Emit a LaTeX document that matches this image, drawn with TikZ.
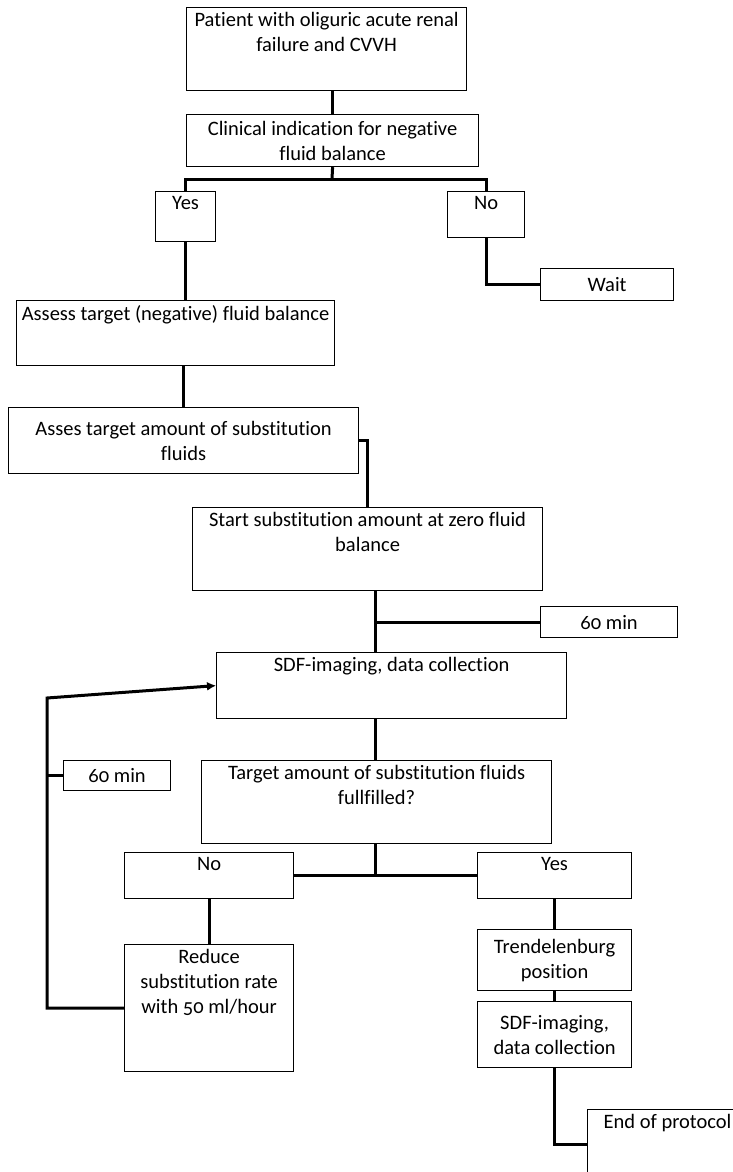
\documentclass[tikz,border=0pt]{standalone}
\usepackage{fontspec}
\setmainfont{Carlito}[Numbers=OldStyle, Ligatures=NoCommon]
\usetikzlibrary{arrows.meta}

\begin{document}
\begin{tikzpicture}[
      x=1pt, y=-1pt,
      every node/.style={font=\fontsize{20.5}{25}\selectfont},
      box/.style={draw, line width=1.2pt, anchor=north west, align=center, inner sep=2pt},
      toptext/.style={label={[anchor=north, align=center, inner sep=5pt]north:{#1}}},
      link/.style={draw, line width=3pt}
    ]
    % Page
    \useasboundingbox[fill=white] (0,0) rectangle (733,1172);

    % Upper part
    \node[box, minimum width=280, minimum height=83,
          toptext={Patient with oliguric acute renal\\failure and CVVH}] (patient) at (186,7) {};
    \node[box, minimum width=292, minimum height=52] (indication) at (186,114)
          {Clinical indication for negative\\fluid balance};
    \node[box, minimum width=60, minimum height=50, toptext=Yes] (yesA) at (155,191) {};
    \node[box, minimum width=77, minimum height=46, toptext=No] (noA) at (447,191) {};
    \node[box, minimum width=133, minimum height=32] (wait) at (540,268) {Wait};
    \node[box, minimum width=318, minimum height=65,
          toptext={Assess target (negative) fluid balance}] (balance) at (16,300) {};
    \node[box, minimum width=350, minimum height=66] (amount) at (8,407)
          {Asses target amount of substitution\\fluids};
    \node[box, minimum width=350, minimum height=83,
          toptext={Start substitution amount at zero fluid\\balance}] (zero) at (192,507) {};

    % Imaging loop
    \node[box, minimum width=137, minimum height=31] (waitA) at (540,606) {60 min};
    \node[box, minimum width=350, minimum height=66,
          toptext={SDF-imaging, data collection}] (imaging) at (216,652) {};
    \node[box, minimum width=107, minimum height=30] (waitB) at (63,760) {60 min};
    \node[box, minimum width=350, minimum height=83,
          toptext={Target amount of substitution fluids\\fullfilled?}] (target) at (201,760) {};
    \node[box, minimum width=169, minimum height=46, toptext=No] (noB) at (124,852) {};
    \node[box, minimum width=154, minimum height=46, toptext=Yes] (yesB) at (477,852) {};
    \node[box, minimum width=169, minimum height=127,
          toptext={Reduce\\substitution rate\\with 50 ml/hour}] (reduce) at (124,944) {};

    % End
    \node[box, minimum width=154, minimum height=61] (trend) at (477,929) {Trendelenburg\\position};
    \node[box, minimum width=154, minimum height=66] (imagingB) at (477,1001) {SDF-imaging,\\data collection};
    \node[box, minimum width=160, minimum height=70, toptext={End of protocol}] (stop) at (587,1109) {};

    % Connectors
    \coordinate (forkA) at (332,179);
    \coordinate (trunk) at (375,0);
    \coordinate (loop) at (47,698);

    \draw[link] (indication.north |- patient.south) -- (indication.north);
    \draw[link] (indication.south) -- (forkA);
    \draw[link] (yesA.north) |- (forkA) -| (noA.north);
    \draw[link] (yesA.south) -- (yesA.south |- balance.north);
    \draw[link] (noA.south) |- (wait.west);
    \draw[link] (amount.north |- balance.south) -- (amount.north);
    \draw[link] (amount.east) -| (zero.north);
    \draw[link] (zero.south -| trunk) -- (imaging.north -| trunk);
    \draw[link] (waitA.west -| trunk) -- (waitA.west);
    \draw[link] (imaging.south -| trunk) -- (target.north -| trunk);
    \draw[link] (target.south -| trunk) -- (noB.east -| trunk);
    \draw[link] (noB.east) -- (yesB.west);
    \draw[link] (noB.south) -- (reduce.north);
    \draw[link] (yesB.south) -- (trend.north);
    \draw[link] (trend.south) -- (imagingB.north);
    \draw[link] (imagingB.south) |- (stop.west);
    \draw[link, -{Latex[length=9pt, width=9pt]}] (reduce.west) -| (loop) -- (imaging.west);
    \draw[link] (waitB.west) -- (waitB.west -| loop);
  \end{tikzpicture}
\end{document}
